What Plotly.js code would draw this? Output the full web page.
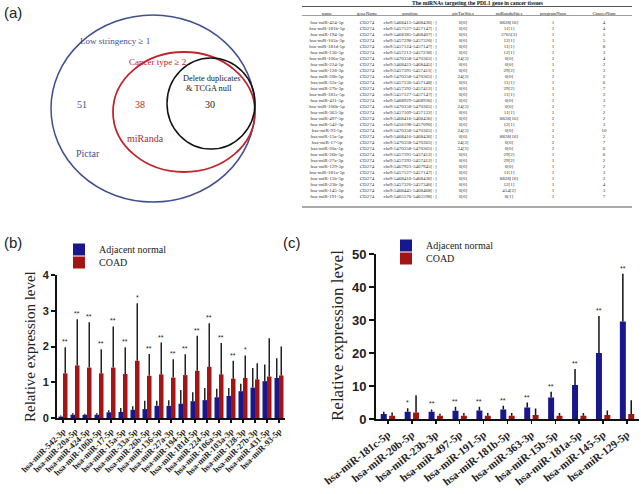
<!DOCTYPE html>
<html><head><meta charset="utf-8">
<script src="https://cdn.plot.ly/plotly-3.0.1.min.js"></script>
<style>html,body{margin:0;padding:0;background:#fff}#chart{width:641px;height:494px}</style>
</head><body><div id="chart"></div>
<script>
// ---------------- Table data (panel a) ----------------
const tblHeaders = ['name','geneName','position','picTarSites','miRandaSites','programNum','CancerNum'];
const tblNames = ['hsa-miR-424-5p','hsa-miR-181b-5p','hsa-miR-194-5p','hsa-miR-103a-3p','hsa-miR-181d-5p','hsa-miR-136-5p','hsa-miR-106a-5p','hsa-miR-224-5p','hsa-miR-128-3p','hsa-miR-20b-5p','hsa-miR-33a-5p','hsa-miR-27b-3p','hsa-miR-181c-5p','hsa-miR-431-5p','hsa-miR-106b-5p','hsa-miR-363-3p','hsa-miR-497-5p','hsa-miR-542-3p','hsa-miR-93-5p','hsa-miR-15a-5p','hsa-miR-17-5p','hsa-miR-20a-5p','hsa-miR-26b-5p','hsa-miR-27a-3p','hsa-miR-129-5p','hsa-miR-181a-5p','hsa-miR-15b-5p','hsa-miR-23b-3p','hsa-miR-145-5p','hsa-miR-191-5p'];
const tblGene = ['CD274','CD274','CD274','CD274','CD274','CD274','CD274','CD274','CD274','CD274','CD274','CD274','CD274','CD274','CD274','CD274','CD274','CD274','CD274','CD274','CD274','CD274','CD274','CD274','CD274','CD274','CD274','CD274','CD274','CD274'];
const tblPos = ['chr9:5468415-5468436[+]','chr9:5457127-5457147[+]','chr9:5468385-5468407[+]','chr9:5457298-5457320[+]','chr9:5457124-5457147[+]','chr9:5457213-5457238[+]','chr9:5470358-5470365[+]','chr9:5468423-5468445[+]','chr9:5457391-5457411[+]','chr9:5470358-5470365[+]','chr9:5457136-5457148[+]','chr9:5457392-5457412[+]','chr9:5457127-5457147[+]','chr9:5468929-5468936[+]','chr9:5470358-5470365[+]','chr9:5457109-5457132[+]','chr9:5468416-5468436[+]','chr9:5456198-5457090[+]','chr9:5470358-5470365[+]','chr9:5468416-5468436[+]','chr9:5470358-5470365[+]','chr9:5470358-5470365[+]','chr9:5457391-5457412[+]','chr9:5457392-5457412[+]','chr9:5467925-5467945[+]','chr9:5457127-5457147[+]','chr9:5468416-5468436[+]','chr9:5457320-5457340[+]','chr9:5468445-5468468[+]','chr9:5465576-5465598[+]'];
const tblPicTar = ['0[0]','0[0]','0[0]','0[0]','0[0]','0[0]','24[3]','0[0]','0[0]','24[3]','0[0]','0[0]','0[0]','0[0]','24[3]','0[0]','0[0]','0[0]','24[3]','0[0]','24[3]','24[3]','0[0]','0[0]','0[0]','0[0]','0[0]','0[0]','0[0]','0[0]'];
const tblMiRanda = ['8828[16]','11[1]','3765[3]','12[1]','11[1]','12[1]','0[0]','0[0]','29[2]','0[0]','11[1]','29[2]','11[1]','0[0]','0[0]','11[1]','8828[16]','12[1]','0[0]','8828[16]','0[0]','0[0]','29[2]','29[2]','0[0]','11[1]','8828[16]','12[1]','414[2]','8[1]'];
const tblProgram = [1,1,1,1,1,1,2,1,1,2,1,1,1,1,2,1,2,1,2,1,2,2,1,1,1,1,1,1,1,1];
const tblCancer = [4,4,5,5,8,3,4,2,3,2,6,7,3,3,7,2,2,3,10,2,7,6,6,2,2,3,2,4,3,7];
const tblTitle = 'The miRNAs targeting the PDL1 gene in cancer tissues';

// ---------------- Venn (panel a) ----------------
const vennCounts = [51, 38, 30];

// ---------------- Panel b ----------------
const bCats = ['hsa-miR-542-3p','hsa-miR-20a-5p','hsa-miR-424-5p','hsa-miR-106b-5p','hsa-miR-17-5p','hsa-miR-15a-5p','hsa-miR-33a-5p','hsa-miR-26b-5p','hsa-miR-136-5p','hsa-miR-27a-3p','hsa-miR-194-5p','hsa-miR-181d-5p','hsa-miR-224-5p','hsa-miR-106a-5p','hsa-miR-103a-3p','hsa-miR-128-3p','hsa-miR-27b-3p','hsa-miR-431-5p','hsa-miR-93-5p'];
const bNormal = [0.04,0.09,0.09,0.09,0.16,0.17,0.23,0.25,0.34,0.34,0.40,0.47,0.50,0.58,0.62,0.75,0.85,1.03,1.12];
const bNormalErr = [0.03,0.04,0.03,0.04,0.06,0.11,0.10,0.23,0.14,0.16,0.38,0.25,0.34,0.24,0.22,0.21,0.55,0.47,0.55];
const bCoad = [1.25,1.47,1.41,1.25,1.41,1.23,1.60,1.18,1.22,1.13,1.20,1.32,1.43,1.22,1.10,1.12,1.08,1.16,1.19];
const bCoadErr = [0.73,1.29,1.27,0.67,1.15,0.75,1.61,0.61,0.89,0.51,0.58,0.98,1.22,0.88,0.50,0.63,0.45,1.07,0.81];
const bStars = ['**','**','**','**','**','**','*','**','**','**','**','**','**','**','**','*','','',''];

// ---------------- Panel c ----------------
const cCats = ['hsa-miR-181c-5p','hsa-miR-20b-5p','hsa-miR-23b-3p','hsa-miR-497-5p','hsa-miR-191-5p','hsa-miR-181b-5p','hsa-miR-363-3p','hsa-miR-15b-5p','hsa-miR-181a-5p','hsa-miR-145-5p','hsa-miR-129-5p'];
const cNormal = [1.5,2.2,2.2,2.5,2.6,2.9,3.5,6.5,10.3,20.0,29.6];
const cNormalErr = [0.7,1.05,0.7,1.2,1.1,1.1,1.5,1.8,4.9,11.3,14.5];
const cCoad = [1.0,2.0,1.0,1.0,1.0,1.0,1.2,1.0,1.0,1.2,1.5];
const cCoadErr = [1.0,5.2,0.6,0.8,0.8,0.8,2.0,0.8,0.8,1.4,4.2];
const cStars = ['','*','**','**','**','**','**','**','**','**','**'];

const seriesNames = ['Adjacent normal','COAD'];
const yTitle = 'Relative expression level';

// ---------------- helpers / style ----------------
const W = 641, H = 494;
const px = x => x / W, py = y => 1 - y / H;
const BLUE = '#18188c', RED = '#a31414';
const VBLUE = '#3f4f8f', VRED = '#c0262d';
const SERIF = 'Liberation Serif', SANS = 'Liberation Sans';

const traces = [];

// Table
traces.push({
  type: 'table',
  domain: {x: [px(302), px(632)], y: [py(208), py(3)]},
  columnwidth: [50, 30, 56, 50, 42, 46, 56],
  header: {values: tblHeaders, height: 9, align: 'center',
    font: {family: SERIF, size: 4.8, color: '#222'},
    line: {width: 0, color: 'rgba(0,0,0,0)'}, fill: {color: 'rgba(0,0,0,0)'}},
  cells: {values: [tblNames, tblGene, tblPos, tblPicTar, tblMiRanda, tblProgram, tblCancer],
    height: 6.0, align: 'center',
    font: {family: SERIF, size: 5, color: '#333'},
    line: {width: 0, color: 'rgba(0,0,0,0)'}, fill: {color: 'rgba(0,0,0,0)'}}
});

function zeros(a){ return a.map(() => 0); }

// Panel b bars
traces.push({type: 'bar', x: bCats, y: bNormal, name: seriesNames[0], marker: {color: BLUE},
  width: 0.375, offset: -0.375, xaxis: 'x', yaxis: 'y', legend: 'legend',
  error_y: {type: 'data', symmetric: false, array: bNormalErr, arrayminus: zeros(bNormalErr), color: '#222', thickness: 1.5, width: 0}});
traces.push({type: 'bar', x: bCats, y: bCoad, name: seriesNames[1], marker: {color: RED},
  width: 0.375, offset: 0, xaxis: 'x', yaxis: 'y', legend: 'legend2',
  error_y: {type: 'data', symmetric: false, array: bCoadErr, arrayminus: zeros(bCoadErr), color: '#222', thickness: 1.5, width: 0}});

// Panel c bars
traces.push({type: 'bar', x: cCats, y: cNormal, name: seriesNames[0], marker: {color: BLUE},
  width: 0.25, offset: -0.3, xaxis: 'x2', yaxis: 'y2', legend: 'legend3',
  error_y: {type: 'data', symmetric: false, array: cNormalErr, arrayminus: zeros(cNormalErr), color: '#111', thickness: 1.5, width: 0}});
traces.push({type: 'bar', x: cCats, y: cCoad, name: seriesNames[1], marker: {color: RED},
  width: 0.25, offset: 0.05, xaxis: 'x2', yaxis: 'y2', legend: 'legend4',
  error_y: {type: 'data', symmetric: false, array: cCoadErr, arrayminus: zeros(cCoadErr), color: '#111', thickness: 1.5, width: 0}});

const annotations = [];
// panel letters
annotations.push({text: '(a)', x: px(2), y: py(12), xref: 'paper', yref: 'paper', xanchor: 'left', yanchor: 'middle', showarrow: false, font: {family: SANS, size: 15, color: '#222'}});
annotations.push({text: '(b)', x: px(2), y: py(242), xref: 'paper', yref: 'paper', xanchor: 'left', yanchor: 'middle', showarrow: false, font: {family: SANS, size: 15, color: '#222'}});
annotations.push({text: '(c)', x: px(281), y: py(242), xref: 'paper', yref: 'paper', xanchor: 'left', yanchor: 'middle', showarrow: false, font: {family: SANS, size: 15, color: '#222'}});

// y-axis titles
annotations.push({text: yTitle, x: px(30), y: py(347), xref: 'paper', yref: 'paper', xanchor: 'center', yanchor: 'middle', textangle: -90, showarrow: false, font: {family: SERIF, size: 15, color: '#222'}});
annotations.push({text: yTitle, x: px(337), y: py(336), xref: 'paper', yref: 'paper', xanchor: 'center', yanchor: 'middle', textangle: -90, showarrow: false, font: {family: SERIF, size: 17, color: '#222'}});

// Venn texts
function vt(text, x, y, color, size){
  annotations.push({text: text, x: px(x), y: py(y), xref: 'paper', yref: 'paper', xanchor: 'center', yanchor: 'middle', showarrow: false, font: {family: SERIF, size: size, color: color}});
}
vt('Low stringency ≥ 1', 115, 41, VBLUE, 9);
vt('Cancer type ≥ 2', 157, 62, VRED, 9);
vt('Delete duplicates', 211, 78, '#222', 8.3);
vt('&amp; TCGA null', 209, 89, '#222', 8.3);
vt(String(vennCounts[0]), 82, 104, VBLUE, 10);
vt(String(vennCounts[1]), 140, 104, VRED, 10);
vt(String(vennCounts[2]), 210, 104, '#222', 10);
vt('miRanda', 145, 139, VRED, 10);
vt('Pictar', 88, 154, VBLUE, 10);

// table title
annotations.push({text: '<b>' + tblTitle + '</b>', x: px(478), y: py(3), xref: 'paper', yref: 'paper', xanchor: 'center', yanchor: 'middle', showarrow: false, font: {family: SERIF, size: 5.6, color: '#111'}});

// stars
bCats.forEach((c, i) => {
  if (bStars[i]) annotations.push({text: bStars[i], x: c, y: bCoad[i] + bCoadErr[i], xref: 'x', yref: 'y', xshift: 2.25, yanchor: 'bottom', showarrow: false, font: {family: SANS, size: 7, color: '#222'}});
});
cCats.forEach((c, i) => {
  if (cStars[i]) annotations.push({text: cStars[i], x: c, y: cNormal[i] + cNormalErr[i], xref: 'x2', yref: 'y2', xshift: -4.2, yanchor: 'bottom', showarrow: false, font: {family: SANS, size: 7, color: '#222'}});
});

const shapes = [
  {type: 'circle', xref: 'paper', yref: 'paper', x0: px(51), x1: px(255), y0: py(202), y1: py(15), line: {color: VBLUE, width: 1.5}},
  {type: 'circle', xref: 'paper', yref: 'paper', x0: px(113), x1: px(255), y0: py(172), y1: py(52), line: {color: VRED, width: 1.8}},
  {type: 'circle', xref: 'paper', yref: 'paper', x0: px(167), x1: px(255), y0: py(149), y1: py(58), line: {color: '#111', width: 1.5}},
  // table rules
  {type: 'line', xref: 'paper', yref: 'paper', x0: px(302), x1: px(632), y0: py(6.5), y1: py(6.5), line: {color: '#555', width: 1.2}},
  {type: 'line', xref: 'paper', yref: 'paper', x0: px(302), x1: px(632), y0: py(15.5), y1: py(15.5), line: {color: '#777', width: 0.7}},
  {type: 'line', xref: 'paper', yref: 'paper', x0: px(302), x1: px(632), y0: py(207), y1: py(207), line: {color: '#555', width: 1.2}}
];

function legendAt(x, y){
  return {x: px(x), y: py(y), xanchor: 'left', yanchor: 'top', bgcolor: 'rgba(0,0,0,0)', borderwidth: 0,
    font: {family: SERIF, size: 10, color: '#222'}};
}

const layout = {
  width: W, height: H, margin: {l: 0, r: 0, t: 0, b: 0},
  paper_bgcolor: '#fff', plot_bgcolor: 'rgba(0,0,0,0)',
  showlegend: true,
  legend: legendAt(59, 235), legend2: legendAt(59, 248),
  legend3: legendAt(386, 231), legend4: legendAt(386, 244),
  xaxis: {domain: [px(57), px(285)], anchor: 'y', type: 'category', range: [-0.5, 18.5],
    showline: true, linecolor: '#111', linewidth: 2, ticks: 'outside', ticklen: 3, tickwidth: 1.5, tickcolor: '#111',
    tickangle: -45, tickfont: {family: SERIF, size: 8.5, color: '#222', weight: 'bold'}, showgrid: false, zeroline: false},
  yaxis: {domain: [py(418), py(275)], anchor: 'x', range: [0, 4], dtick: 1,
    showline: true, linecolor: '#111', linewidth: 2, ticks: 'outside', ticklen: 4, tickwidth: 2, tickcolor: '#111',
    tickfont: {family: SANS, size: 11, color: '#222', weight: 'bold'}, showgrid: false, zeroline: false},
  xaxis2: {domain: [px(376), px(639)], anchor: 'y2', type: 'category', range: [-0.5, 10.5],
    showline: true, linecolor: '#111', linewidth: 2, ticks: 'outside', ticklen: 3, tickwidth: 1.5, tickcolor: '#111',
    tickangle: -38, tickfont: {family: SERIF, size: 11, color: '#222', weight: 'bold'}, showgrid: false, zeroline: false},
  yaxis2: {domain: [py(419), py(254.3)], anchor: 'x2', range: [0, 50], dtick: 10,
    showline: true, linecolor: '#111', linewidth: 2, ticks: 'outside', ticklen: 5, tickwidth: 2, tickcolor: '#111',
    tickfont: {family: SANS, size: 13, color: '#222', weight: 'bold'}, showgrid: false, zeroline: false},
  annotations: annotations,
  shapes: shapes
};

Plotly.newPlot('chart', traces, layout, {displayModeBar: false, staticPlot: true});
</script>
</body></html>
